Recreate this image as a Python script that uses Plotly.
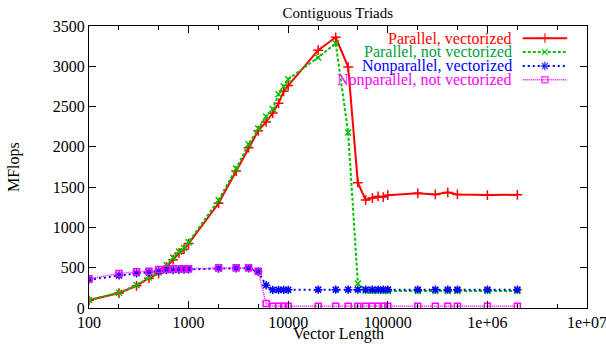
import plotly.graph_objects as go

# ---------------- data ----------------
lengths = [100, 200, 300, 400, 500, 600, 700, 800, 900, 1000,
           2000, 3000, 4000, 5000, 6000, 7000, 8000, 9000, 10000,
           20000, 30000, 40000, 50000, 60000, 70000, 80000, 90000, 100000,
           200000, 300000, 400000, 500000, 1000000, 2000000]

par_vec = [95, 185, 275, 370, 430, 510, 600, 680, 730, 800,
           1300, 1700, 1990, 2200, 2310, 2420, 2540, 2690, 2760,
           3200, 3360, 2990, 1556, 1340, 1365, 1385, 1377, 1400,
           1423, 1410, 1435, 1410, 1402, 1405]

par_novec = [100, 190, 282, 378, 440, 530, 625, 700, 745, 815,
             1340, 1730, 2032, 2227, 2377, 2468, 2654, 2750, 2840,
             3110, 3285, 2178, 303, 215, 212, 212, 212, 212,
             212, 212, 212, 212, 212, 212]

nonpar_vec = [352, 405, 430, 445, 460, 470, 472, 475, 478, 480,
              490, 492, 492, 449, 282, 225, 225, 225, 225,
              228, 228, 228, 228, 228, 228, 228, 228, 228,
              228, 228, 228, 228, 228, 228]

nonpar_novec = [362, 428, 449, 457, 478, 484, 486, 486, 487, 488,
                499, 499, 499, 456, 55, 21, 21, 21, 21,
                21, 21, 21, 21, 21, 21, 21, 21, 21,
                21, 21, 21, 21, 21, 21]

series_names = ["Parallel, vectorized", "Parallel, not vectorized",
                "Nonparallel, vectorized", "Nonparallel, not vectorized"]
series_values = [par_vec, par_novec, nonpar_vec, nonpar_novec]

x_tickvals = [100, 1000, 10000, 100000, 1000000, 10000000]
x_ticktext = ["100", "1000", "10000", "100000", "1e+06", "1e+07"]
y_tickvals = [0, 500, 1000, 1500, 2000, 2500, 3000, 3500]

# ---------------- styles ----------------
styles = [
    dict(color="#ff0000", dash="solid", width=2, symbol="cross-thin-open", size=7),
    dict(color="#00c000", dash="3px,2px", width=2, symbol="x-thin-open", size=6),
    dict(color="#0000ff", dash="2px,3px", width=2, symbol="asterisk-open", size=7),
    dict(color="#ff00ff", dash="1px,1px", width=1.5, symbol="square-open", size=6),
]
text_colors = ["#ff0000", "#00a040", "#0000ff", "#ff00ff"]

FONT = "Liberation Serif, Times New Roman, serif"

fig = go.Figure()
for name, vals, st in zip(series_names, series_values, styles):
    fig.add_trace(go.Scatter(
        x=lengths, y=vals, name=name, mode="lines+markers",
        line=dict(color=st["color"], dash=st["dash"], width=st["width"]),
        marker=dict(symbol=st["symbol"], size=st["size"],
                    color=st["color"], line=dict(color=st["color"], width=1.5)),
        showlegend=False, xaxis="x", yaxis="y",
    ))

# gnuplot-style key: right-aligned coloured text, sample to the right
key_y = [0.957, 0.908, 0.858, 0.809]
for name, st, tc, ky in zip(series_names, styles, text_colors, key_y):
    fig.add_trace(go.Scatter(
        x=[0.871, 0.9155, 0.96], y=[ky, ky, ky], mode="lines+markers",
        line=dict(color=st["color"], dash=st["dash"], width=st["width"]),
        marker=dict(symbol=st["symbol"], size=[0, st["size"], 0],
                    color=st["color"], line=dict(color=st["color"], width=1.5)),
        showlegend=False, xaxis="x2", yaxis="y2", hoverinfo="skip",
    ))
    fig.add_annotation(x=0.853, y=ky, xref="x2", yref="y2", text=name,
                       showarrow=False, xanchor="right", yanchor="middle",
                       font=dict(family=FONT, size=16, color=tc))

# axis titles
fig.add_annotation(x=0.5, y=0, xref="paper", yref="paper", yshift=-26,
                   text="Vector Length", showarrow=False,
                   xanchor="center", yanchor="middle",
                   font=dict(family=FONT, size=16, color="black"))
fig.add_annotation(x=0, y=0.5, xref="paper", yref="paper", xshift=-75,
                   text="MFlops", showarrow=False, textangle=-90,
                   xanchor="center", yanchor="middle",
                   font=dict(family=FONT, size=16, color="black"))

fig.update_layout(
    width=606, height=345,
    margin=dict(l=89, r=19, t=26, b=37),
    paper_bgcolor="white", plot_bgcolor="white",
    font=dict(family=FONT, size=16, color="black"),
    title=dict(text="Contiguous Triads", x=0.5575, xanchor="center",
               y=0.962, yanchor="middle", font=dict(family=FONT, size=15)),
    xaxis=dict(
        type="log", range=[2, 7], tickvals=x_tickvals, ticktext=x_ticktext,
        ticks="inside", ticklen=7, tickcolor="black", showline=True,
        linecolor="black", linewidth=1, mirror="allticks", showgrid=False,
        zeroline=False, automargin=False, ticklabeloverflow="allow",
        minor=dict(ticks="inside", ticklen=4, dtick="D2", tickcolor="black",
                   showgrid=False),
        tickfont=dict(size=16),
    ),
    yaxis=dict(
        range=[0, 3500], tickvals=y_tickvals, ticks="inside", ticklen=7,
        tickcolor="black", showline=True, linecolor="black", linewidth=1,
        mirror="allticks", showgrid=False, zeroline=False, automargin=False,
        tickfont=dict(size=16),
    ),
    xaxis2=dict(range=[0, 1], overlaying="x", visible=False, fixedrange=True),
    yaxis2=dict(range=[0, 1], overlaying="y", visible=False, fixedrange=True),
)

fig.write_html("out.html", config={"displayModeBar": False},
               post_script="document.body.style.margin='0px';document.body.style.overflow='hidden';")
